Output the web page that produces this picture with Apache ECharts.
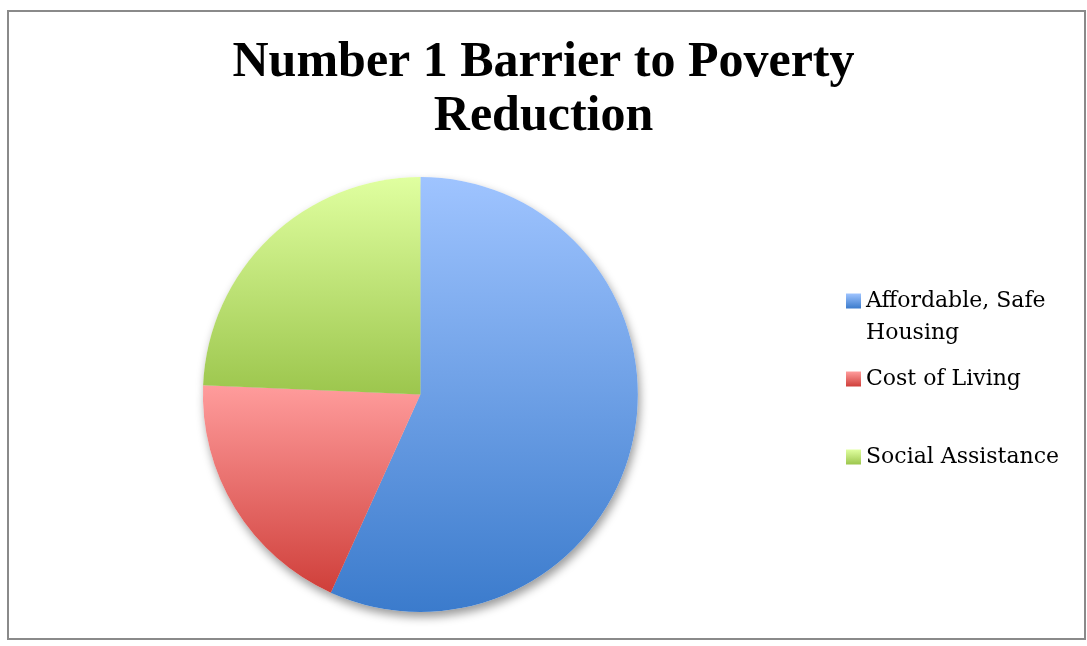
<!DOCTYPE html>
<html>
<head>
<meta charset="utf-8">
<title>Number 1 Barrier to Poverty Reduction</title>
<script src="https://cdn.jsdelivr.net/npm/echarts@6/dist/echarts.min.js"></script>
<style>
  html, body { margin: 0; padding: 0; background: #ffffff; }
  #wrap { position: relative; width: 1087px; height: 646px; }
  #chart { position: absolute; left: 0; top: 0; width: 1087px; height: 646px; }
  #frame {
    position: absolute; left: 7px; top: 10px; width: 1075px; height: 626px;
    border: 2px solid #8a8a8a; pointer-events: none;
  }
</style>
</head>
<body>
<div id="wrap">
  <div id="chart"></div>
  <div id="frame"></div>
</div>
<script>
// Survey answers: the single biggest barrier named by respondents
const categories = ['Affordable, Safe\nHousing', 'Cost of Living', 'Social Assistance'];
const responses = [21, 7, 9];
const titleText = 'Number 1 Barrier to Poverty\nReduction';

// Top-to-bottom shading for each slice (light top, deeper bottom)
const sliceShades = [
  ['#9fc4ff', '#3b7bcc'],
  ['#ff9c9c', '#cf3f3a'],
  ['#e0ffa0', '#9cc64d']
];

function shade(pair) {
  return new echarts.graphic.LinearGradient(0, 0, 0, 1, [
    { offset: 0, color: pair[0] },
    { offset: 1, color: pair[1] }
  ]);
}

const pieData = categories.map((name, i) => ({
  name: name,
  value: responses[i],
  itemStyle: { color: shade(sliceShades[i]) }
}));

const legendFont = {
  fontFamily: 'DejaVu Serif',
  fontSize: 22,
  lineHeight: 32,
  color: '#000000'
};

function legendFor(idx, top, label) {
  return {
    show: true,
    orient: 'vertical',
    left: 846,
    top: top,
    padding: 0,
    itemWidth: 15,
    itemHeight: 15,
    itemGap: 0,
    icon: 'rect',
    selectedMode: false,
    data: [categories[idx]],
    formatter: () => label,
    textStyle: legendFont
  };
}

const chart = echarts.init(document.getElementById('chart'), null, { renderer: 'canvas' });

chart.setOption({
  animation: false,
  title: {
    text: titleText,
    left: 'center',
    top: 36,
    padding: 0,
    textStyle: {
      fontFamily: 'Liberation Serif',
      fontWeight: 'bold',
      fontSize: 50,
      lineHeight: 54,
      color: '#000000'
    }
  },
  legend: [
    legendFor(0, 253, '\n' + categories[0]),
    legendFor(1, 363, categories[1]),
    legendFor(2, 441, categories[2])
  ],
  series: [
    {
      name: 'Barrier',
      type: 'pie',
      center: [420.4, 394.5],
      radius: 217.5,
      startAngle: 90,
      clockwise: true,
      z: 3,
      label: { show: false },
      labelLine: { show: false },
      emphasis: { disabled: true },
      itemStyle: { borderWidth: 0 },
      data: pieData
    },
    {
      // soft drop shadow beneath the pie
      name: 'BarrierShadow',
      type: 'pie',
      center: [420.4, 394.5],
      radius: 217.5,
      startAngle: 90,
      clockwise: true,
      z: 1,
      silent: true,
      label: { show: false },
      labelLine: { show: false },
      emphasis: { disabled: true },
      itemStyle: {
        color: '#ffffff',
        borderWidth: 0,
        shadowBlur: 10,
        shadowOffsetX: 2,
        shadowOffsetY: 5,
        shadowColor: 'rgba(0,0,0,0.4)'
      },
      data: categories.map((name, i) => ({ name: name, value: responses[i] }))
    }
  ]
});
</script>
</body>
</html>
